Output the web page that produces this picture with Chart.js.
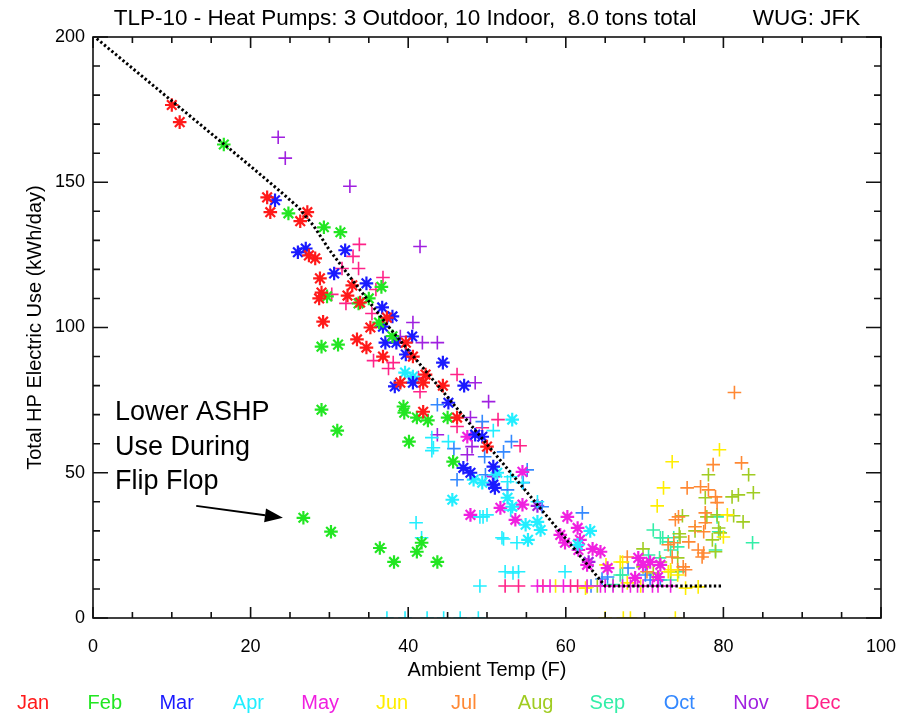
<!DOCTYPE html>
<html><head><meta charset="utf-8">
<script src="https://cdn.jsdelivr.net/npm/chart.js@4.4.0/dist/chart.umd.min.js"></script>
<style>html,body{margin:0;padding:0;background:#fff;}#wrap{width:915px;height:716px;}</style>
</head><body><div id="wrap"><canvas id="c" width="915" height="716"></canvas></div>
<script>
// ---- DATA (Ambient temp F, kWh/day) ----
const months = ['Jan','Feb','Mar','Apr','May','Jun','Jul','Aug','Sep','Oct','Nov','Dec'];
const monthColors = ['#ff1a1a','#22e622','#1a1aff','#22eeff','#f020e0','#ffee00','#ff8833','#a0cc22','#33eea8','#3388ff','#a020e0','#ff2288'];
const titleText = 'TLP-10 - Heat Pumps: 3 Outdoor, 10 Indoor,  8.0 tons total         WUG: JFK';
const xTitle = 'Ambient Temp (F)';
const yTitle = 'Total HP Electric Use (kWh/day)';
const xTicks = [0,20,40,60,80,100];
const yTicks = [0,50,100,150,200];
const noteLines = ['Lower ASHP','Use During','Flip Flop'];

const fitTemp = [0,10,20,24,26,28,30,33,37.5,45,50,55,60,65,70,75,80];
const fitUse  = [200.5,178,155.5,146.3,141.5,135,126.7,116,100.3,76,59.8,43.5,27.3,11,11,11,11];

const janStar = [[10.0,176.6],[11.0,170.7],[22.1,144.8],[22.5,139.7],[26.3,136.6],[27.2,139.7],[27.4,124.8],[28.2,123.8],[28.8,116.9],[29.0,112.0],[28.7,110.0],[29.2,102.0],[32.9,114.5],[32.3,111.0],[33.9,108.6],[35.2,100.0],[33.5,95.9],[34.7,93.1],[37.3,103.4],[36.8,90.0],[39.7,94.8],[40.6,90.0],[42.2,83.8],[41.9,81.0],[39.0,81.0],[44.4,80.0],[41.9,71.0],[46.2,69.0],[50.0,59.0]];
const febStar = [[16.6,163.0],[24.8,139.3],[29.3,134.5],[31.4,132.8],[29.0,93.4],[31.1,94.1],[36.6,114.0],[35.0,110.0],[29.7,110.7],[33.7,108.3],[36.3,101.7],[38.0,97.0],[29.0,71.7],[31.0,64.5],[39.4,72.8],[39.5,70.7],[41.1,69.0],[42.5,68.0],[45.0,69.0],[40.1,60.7],[36.4,24.1],[38.2,19.3],[41.1,22.8],[41.7,25.9],[43.7,19.3],[45.7,53.8],[26.7,34.5],[30.2,29.7]];
const marStar = [[23.1,143.8],[26.0,125.9],[27.0,127.2],[32.0,126.6],[30.6,118.6],[34.7,115.2],[36.7,106.9],[38.0,103.8],[36.8,100.3],[37.1,94.8],[38.5,94.8],[40.5,96.9],[39.7,90.7],[38.3,79.7],[40.6,81.0],[44.4,87.9],[47.1,80.0],[45.1,74.1],[48.5,63.1],[49.4,62.4],[47.0,51.7],[47.9,50.0],[50.8,52.1],[50.8,45.9],[51.0,44.8]];
const aprStar = [[45.6,40.7],[54.9,32.1],[56.4,33.1],[56.8,30.3],[55.2,26.9],[63.1,30.0],[53.2,68.3],[39.6,84.5],[40.6,83.1],[51.3,50.0],[52.6,41.4],[53.2,38.3],[61.5,25.2],[49.4,46.6],[48.3,47.6]];
const aprPlus = [[51.9,27.6],[53.8,25.9],[50.0,35.5],[49.1,34.8],[52.6,46.9],[53.0,37.2],[52.3,15.9],[54.0,15.9],[49.1,11.0],[59.9,15.9],[56.4,40.0],[50.8,64.5],[43.0,62.1],[43.2,58.6],[45.1,60.7],[51.0,49.3],[53.0,48.6],[54.5,46.6],[43.0,57.6],[41.0,32.8],[41.7,27.6],[49.5,34.8],[52.1,27.2],[53.3,15.5],[37.3,0],[39.6,0],[42.4,0],[44.5,0],[46.6,0],[48.9,0]];
const mayStar = [[47.5,62.4],[47.9,35.5],[51.7,37.9],[53.6,33.8],[54.5,39.0],[60.2,34.8],[61.5,31.0],[59.3,28.6],[59.9,25.9],[61.8,26.9],[61.6,23.4],[63.4,23.8],[64.4,22.8],[62.7,18.3],[65.3,17.2],[69.2,20.7],[69.8,18.3],[70.7,19.3],[68.8,13.8],[71.7,14.1],[72.0,18.3],[54.5,50.3]];
const mayPlus = [[56.4,11],[58.0,11],[59.7,11],[62.7,11],[64.4,11],[65.0,11],[66.0,11],[67.2,11],[68.2,11],[69.1,11],[69.8,11],[71.0,11],[71.7,11],[73.3,11]];
const junPlus = [[79.5,57.9],[73.5,53.8],[72.4,44.8],[71.6,38.6],[80.5,35.5],[80.0,27.9],[66.9,19.3],[73.0,15.9],[74.2,14.8],[76.8,10.7],[67.2,19.3],[73.3,16.6],[65.1,18.3],[62.7,10.7],[62.5,10.3],[58.7,11.0],[67.8,12.1],[75.2,10.3],[69.5,11.0],[65.0,0],[67.3,0],[68.2,0],[73.9,0]];
const julPlus = [[81.4,77.6],[78.7,52.8],[82.3,53.4],[75.4,44.8],[77.1,45.2],[78.1,44.1],[79.0,41.7],[79.2,39.7],[73.9,33.8],[74.3,34.8],[77.7,36.2],[77.7,32.8],[76.4,31.4],[77.5,29.7],[75.6,26.2],[73.7,25.9],[73.5,21.0],[76.8,23.4],[77.5,22.4],[77.3,21.0],[74.9,17.6],[74.2,16.6],[67.8,21.0],[73.0,25.2],[70.3,15.9],[75.2,16.6]];
const augPlus = [[78.1,49.3],[83.2,49.3],[81.9,42.4],[81.1,41.7],[83.8,43.1],[77.7,41.4],[79.2,35.5],[81.3,35.2],[82.5,33.1],[74.8,35.2],[77.9,34.8],[76.4,30.0],[78.6,26.9],[79.4,31.0],[79.6,29.3],[74.4,29.0],[69.8,23.8],[72.0,19.3],[73.3,15.9],[74.2,20.7],[79.0,22.8],[71.1,15.5],[74.5,27.9],[69.8,17.6],[64.0,11.0]];
const sepPlus = [[71.1,30.3],[72.0,27.6],[73.0,26.2],[73.7,27.6],[73.3,23.4],[74.2,24.5],[79.0,23.4],[79.2,34.8],[79.4,29.7],[71.9,20.7],[70.5,21.7],[67.2,14.8],[73.3,13.1],[83.7,25.9],[72.3,27.6],[74.3,15.9],[66.9,14.8],[66.0,11.5]];
const octPlus = [[43.7,73.4],[49.4,67.6],[45.8,58.3],[49.7,55.5],[52.1,57.2],[46.2,47.6],[49.8,49.3],[52.6,44.1],[53.1,60.7],[55.1,51.0],[62.1,36.2],[57.0,38.3],[64.6,13.4],[54.6,46.6],[65.3,14.1],[70.1,14.8],[70.7,13.1],[71.7,13.1],[67.9,17.2],[72.0,13.1],[63.2,11.0]];
const novPlus = [[23.5,165.5],[24.4,158.3],[32.6,148.6],[41.5,127.9],[40.6,101.7],[43.7,94.8],[41.8,94.8],[39.0,96.9],[48.5,81.0],[50.2,74.5],[47.9,69.0],[43.7,63.1],[47.5,56.2],[48.1,59.0],[50.7,49.3],[50.8,48.6]];
const novStar = [[62.9,19.3],[56.4,38.6]];
const decPlus = [[33.8,128.6],[33.0,124.5],[33.7,120.3],[31.6,120.3],[36.8,117.2],[35.9,113.1],[30.3,111.4],[32.1,108.3],[35.4,104.8],[35.6,88.6],[37.5,85.9],[38.1,87.9],[41.3,82.8],[41.5,77.9],[46.2,83.8],[51.4,68.3],[54.2,59.3],[46.2,65.9],[49.4,65.5],[52.3,11],[54.0,11],[57.1,11],[60.6,11],[61.5,11]];

// month index -> marker sets
const starSets = [janStar, febStar, marStar, aprStar, mayStar, [], [], [], [], [], novStar, []];
const plusSets = [[], [], [], aprPlus, mayPlus, junPlus, julPlus, augPlus, sepPlus, octPlus, novPlus, decPlus];

// annotation anchor (data units)
const noteAt = {x: 2.8, y: [70.7, 58.6, 47.0]};
const arrowFrom = [13.1, 38.6];
const arrowTo = [24.1, 34.5];

// ---- CHART ----
const FONT = '"Liberation Sans", Arial, sans-serif';
const toPts = arr => arr.map(p => ({x: p[0], y: p[1]}));

const datasets = [{
  type: 'line', data: fitTemp.map((t, i) => ({x: t, y: fitUse[i]})),
  borderColor: '#000', borderWidth: 3, borderDash: [2.4, 2.4], pointRadius: 0,
  fill: false, tension: 0, order: 0
}];
months.forEach((m, i) => {
  if (starSets[i].length) datasets.push({
    type: 'scatter', label: m, data: toPts(starSets[i]), pointStyle: 'star', pointRadius: 6.8,
    pointBorderWidth: 2.2, pointBorderColor: monthColors[i], pointBackgroundColor: monthColors[i], order: 1
  });
  if (plusSets[i].length) datasets.push({
    type: 'scatter', label: m, data: toPts(plusSets[i]), pointStyle: 'cross', pointRadius: 6.8,
    pointBorderWidth: 1.6, pointBorderColor: monthColors[i], pointBackgroundColor: monthColors[i], order: 1
  });
});

const framePlugin = {
  id: 'frame',
  afterDraw(chart) {
    const {ctx, chartArea: a, scales: {x, y}} = chart;
    ctx.save();
    ctx.strokeStyle = '#111'; ctx.lineWidth = 1.6;
    ctx.strokeRect(a.left, a.top, a.right - a.left, a.bottom - a.top);
    ctx.beginPath();
    for (let v = xTicks[0]; v <= xTicks[xTicks.length - 1]; v += 5) {
      const px = x.getPixelForValue(v), L = xTicks.includes(v) ? 11 : 6;
      ctx.moveTo(px, a.bottom); ctx.lineTo(px, a.bottom - L);
      ctx.moveTo(px, a.top); ctx.lineTo(px, a.top + L);
    }
    for (let v = yTicks[0]; v <= yTicks[yTicks.length - 1]; v += 10) {
      const py = y.getPixelForValue(v), L = yTicks.includes(v) ? 15 : 7;
      ctx.moveTo(a.left, py); ctx.lineTo(a.left + L, py);
      ctx.moveTo(a.right, py); ctx.lineTo(a.right - L, py);
    }
    ctx.stroke();
    // annotation
    ctx.fillStyle = '#000'; ctx.font = '27px ' + FONT; ctx.textBaseline = 'middle'; ctx.textAlign = 'left';
    noteLines.forEach((t, i) => ctx.fillText(t, x.getPixelForValue(noteAt.x), y.getPixelForValue(noteAt.y[i])));
    const x0 = x.getPixelForValue(arrowFrom[0]), y0 = y.getPixelForValue(arrowFrom[1]);
    const x1 = x.getPixelForValue(arrowTo[0]), y1 = y.getPixelForValue(arrowTo[1]);
    const ang = Math.atan2(y1 - y0, x1 - x0), hl = 18, hw = 7;
    const bx = x1 - hl * Math.cos(ang), by = y1 - hl * Math.sin(ang);
    ctx.lineWidth = 2; ctx.strokeStyle = '#000';
    ctx.beginPath(); ctx.moveTo(x0, y0); ctx.lineTo(bx, by); ctx.stroke();
    ctx.beginPath(); ctx.moveTo(x1, y1);
    ctx.lineTo(bx + hw * Math.sin(ang), by - hw * Math.cos(ang));
    ctx.lineTo(bx - hw * Math.sin(ang), by + hw * Math.cos(ang));
    ctx.closePath(); ctx.fill();
    // month legend
    ctx.font = '20px ' + FONT; ctx.textAlign = 'center'; ctx.textBaseline = 'middle';
    months.forEach((m, i) => { ctx.fillStyle = monthColors[i]; ctx.fillText(m, 33 + i * 71.8, 703); });
    ctx.restore();
  }
};

new Chart(document.getElementById('c'), {
  data: {datasets},
  options: {
    responsive: false, animation: false,
    layout: {padding: {left: 0, right: 34, top: 0, bottom: 0}},
    plugins: {
      legend: {display: false}, tooltip: {enabled: false},
      title: {display: true, text: titleText, fullSize: false, color: '#000',
        font: {size: 22.5, family: FONT, weight: 'normal'}, padding: {top: 5, bottom: 5}}
    },
    scales: {
      x: {type: 'linear', min: 0, max: 100,
        ticks: {stepSize: 20, color: '#000', font: {size: 18, family: FONT}, padding: 18, maxRotation: 0},
        grid: {display: false, drawTicks: false}, border: {display: false},
        title: {display: true, text: xTitle, color: '#000', font: {size: 20, family: FONT}, padding: {top: 0, bottom: 34}},
        afterFit(s) { s.height = 98; }},
      y: {type: 'linear', min: 0, max: 200,
        ticks: {stepSize: 50, color: '#000', font: {size: 18, family: FONT}, padding: 8},
        grid: {display: false, drawTicks: false}, border: {display: false},
        title: {display: true, text: yTitle, color: '#000', font: {size: 20, family: FONT}, padding: {top: 23, bottom: 0}},
        afterFit(s) { s.width = 93; }}
    }
  },
  plugins: [framePlugin]
});
</script></body></html>
